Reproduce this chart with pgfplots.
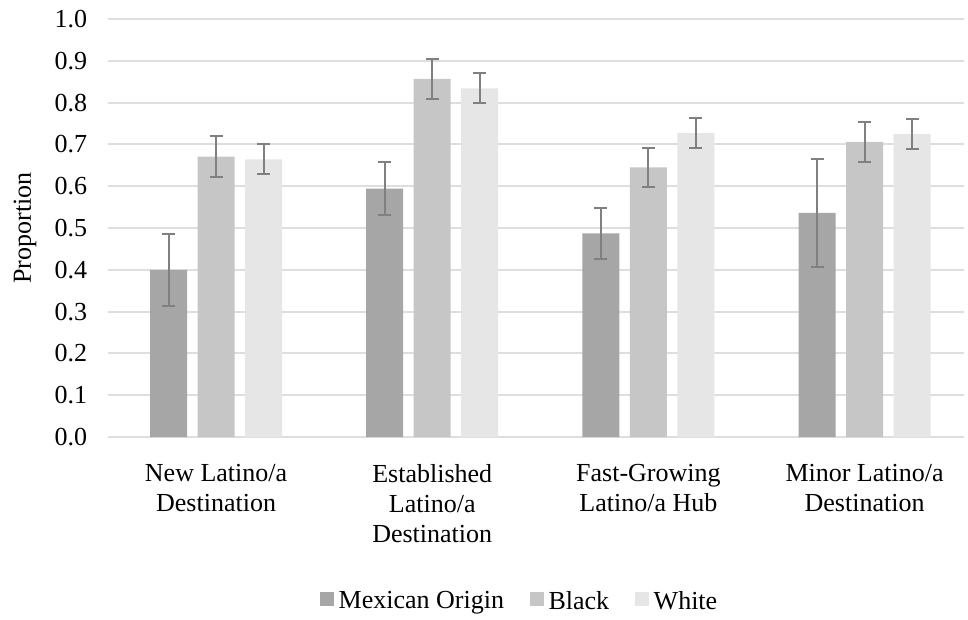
\documentclass[border=0pt]{standalone}
\usepackage{fontspec}
\setmainfont{Liberation Serif}
\usepackage{pgfplots}
\pgfplotsset{compat=1.18}

\definecolor{mexcol}{HTML}{A6A6A6}
\definecolor{blkcol}{HTML}{C6C6C6}
\definecolor{whtcol}{HTML}{E6E6E6}
\definecolor{errcol}{HTML}{808080}
\definecolor{gridcol}{HTML}{DEDEDE}

\newcommand{\chartfont}{\fontsize{26bp}{30bp}\selectfont}

\begin{document}
\chartfont
\begin{tikzpicture}
\begin{axis}[
  scale only axis,
  width=856bp, height=418bp,
  xmin=0.5, xmax=4.46,
  ymin=0, ymax=1.0,
  ybar=10.5bp, bar width=37bp,
  axis line style={draw=none},
  axis x line*=bottom,
  xtick={1,2,3,4},
  xticklabels={New Latino/a\\Destination,Established\\Latino/a\\Destination,Fast-Growing\\Latino/a Hub,Minor Latino/a\\Destination},
  xticklabel style={align=center, font=\chartfont, yshift=-14bp},
  major x tick style={draw=none},
  ytick={0,0.1,...,1.0},
  yticklabel style={/pgf/number format/.cd, fixed, fixed zerofill, precision=1, /tikz/.cd, font=\chartfont, xshift=-12bp},
  /pgf/number format/assume math mode=true,
  major y tick style={draw=none},
  ymajorgrids,
  grid style={draw=gridcol, line width=2bp},
  ylabel={Proportion},
  ylabel style={font=\chartfont, at={(rel axis cs:-0.097,0.5)}, anchor=center},
  legend columns=3,
  legend style={draw=none, at={(0.481,-0.395)}, anchor=center,
    font=\chartfont,
    nodes={inner xsep=2.5bp},
    /tikz/every odd column/.append style={column sep=2.5bp},
    /tikz/every even column/.append style={column sep=23bp}},
  legend image code/.code={\fill[#1] (0bp,-3.5bp) rectangle (14bp,10.5bp);},
  error bars/y dir=both,
  error bars/y explicit,
  error bars/error mark=|,
  error bars/error bar style={draw=errcol, line width=2bp},
  error bars/error mark options={draw=errcol, line width=2bp, mark size=6.5bp},
]
\coordinate (bl) at (rel axis cs:0,0);
\coordinate (tr) at (rel axis cs:1,1);
\draw[draw=gridcol, line width=2bp] (axis cs:0.5,0) -- (axis cs:4.46,0);
\addplot[fill=mexcol, draw=none] coordinates {
  (1,0.400) +- (0,0.086)
  (2,0.594) +- (0,0.064)
  (3,0.487) +- (0,0.060)
  (4,0.536) +- (0,0.129)
};
\addplot[fill=blkcol, draw=none] coordinates {
  (1,0.671) +- (0,0.048)
  (2,0.857) +- (0,0.048)
  (3,0.645) +- (0,0.047)
  (4,0.706) +- (0,0.048)
};
\addplot[fill=whtcol, draw=none] coordinates {
  (1,0.664) +- (0,0.036)
  (2,0.834) +- (0,0.036)
  (3,0.727) +- (0,0.036)
  (4,0.725) +- (0,0.036)
};
\legend{Mexican Origin, Black, White}
\end{axis}
\pgfresetboundingbox
\useasboundingbox ([xshift=-108bp,yshift=-183bp]bl) rectangle ([xshift=4bp,yshift=19bp]tr);
\end{tikzpicture}
\end{document}
